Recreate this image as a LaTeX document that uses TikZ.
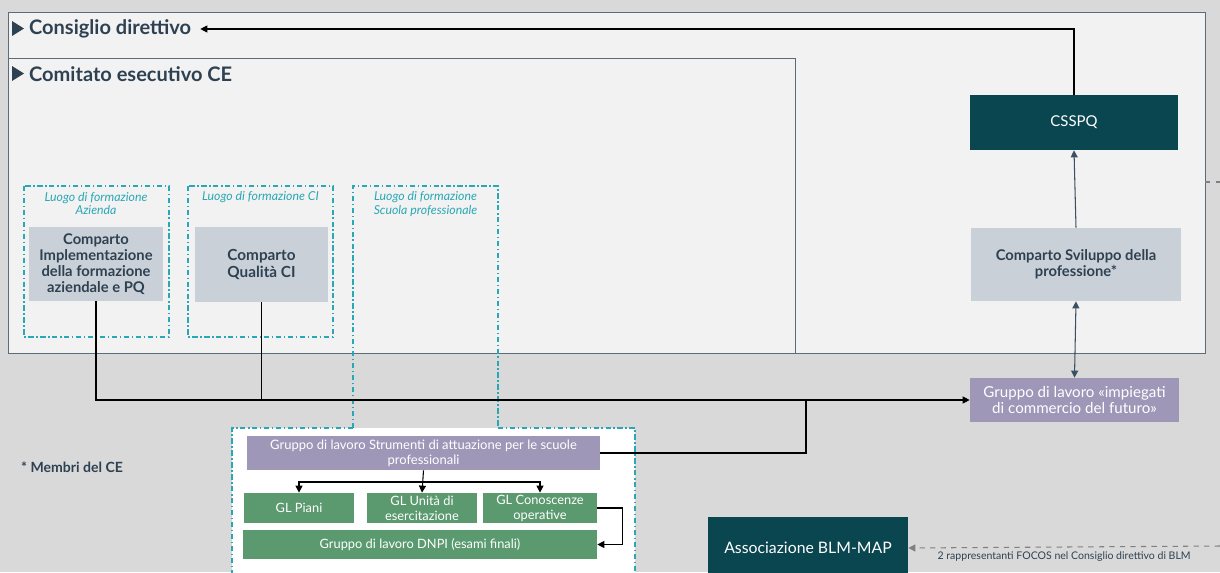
\documentclass[tikz,border=0pt]{standalone}
\usepackage{fontspec}
\setmainfont{Lato}
\usetikzlibrary{arrows.meta}
\definecolor{sfondo}{HTML}{D9D9D9}
\definecolor{pannello}{HTML}{F2F2F2}
\definecolor{cornice}{HTML}{5B6B77}
\definecolor{turchese}{HTML}{2AA7B5}
\definecolor{grigiobox}{HTML}{CAD0D7}
\definecolor{testoscuro}{HTML}{2E4152}
\definecolor{petrolio}{HTML}{0A4650}
\definecolor{lilla}{HTML}{9E97B8}
\definecolor{verde}{HTML}{5A9A6E}
\definecolor{ardesia}{HTML}{3A5163}
\begin{document}
\begin{tikzpicture}[x=0.02cm,y=-0.02cm,
    titolo/.style={anchor=west, text=testoscuro, inner sep=1pt, font=\bfseries\fontsize{11.4}{13}\selectfont},
    luogo/.style={draw=turchese, line width=0.6pt, dash pattern=on 3pt off 1.5pt on 0.8pt off 1.5pt},
    luogotesto/.style={text=turchese, align=center, font=\itshape\fontsize{7}{7.5}\selectfont},
    grigio/.style={fill=grigiobox, text=testoscuro, align=center, inner sep=1pt, font=\bfseries\fontsize{8.4}{9}\selectfont},
    scuro/.style={fill=petrolio, text=white, align=center, inner sep=1pt, font=\fontsize{8.5}{10}\selectfont},
    viola/.style={fill=lilla, text=white, align=center, inner sep=1pt, font=\fontsize{8.6}{9}\selectfont},
    gl/.style={fill=verde, text=white, align=center, inner sep=1pt, font=\fontsize{7.3}{8.5}\selectfont},
    freccia/.style={line width=0.6pt, -{Triangle[length=4pt,width=4pt]}},
    collega/.style={line width=0.6pt}]
  \clip (0,0) rectangle (1220,572);
  \fill[sfondo] (0,0) rectangle (1220,572);
  \draw[cornice, fill=pannello, line width=0.5pt] (8,12) rectangle (1205,353);
  \draw[cornice, line width=0.5pt] (8,58) -- (795,58) -- (795,353);
  \fill[testoscuro] (12,21) -- (24,28.5) -- (12,36) -- cycle;
  \fill[testoscuro] (12,66) -- (24,73.5) -- (12,81) -- cycle;
  \node[titolo] (cd) at (27,29) {Consiglio direttivo};
  \node[titolo] (ce) at (27,74) {Comitato esecutivo CE};
  \draw[luogo] (24,186) rectangle (169,337);
  \draw[luogo] (188,186) rectangle (333,337);
  \fill[white] (232,428) rectangle (635,580);
  \draw[luogo] (353,428) -- (353,186) -- (498,186) -- (498,428);
  \draw[luogo] (353,428) -- (232,428) -- (232,580);
  \draw[luogo] (498,428) -- (635,428) -- (635,580);
  \node[luogotesto] (la) at (96,203.5) {Luogo di formazione\\Azienda};
  \node[luogotesto] (lc) at (260.5,197) {Luogo di formazione CI};
  \node[luogotesto] (ls) at (425.5,204) {Luogo di formazione\\Scuola professionale};
  \node[grigio, minimum width=2.68cm, minimum height=1.48cm] (impl) at (96,264) {Comparto\\Implementazione\\della formazione\\aziendale e PQ};
  \node[grigio, font=\bfseries\fontsize{8.7}{9.5}\selectfont, minimum width=2.66cm, minimum height=1.5cm] (qual) at (261.5,264.5) {Comparto\\Qualità CI};
  \node[scuro, minimum width=4.16cm, minimum height=1.1cm] (csspq) at (1074,122.5) {CSSPQ};
  \node[grigio, minimum width=4.2cm, minimum height=1.46cm] (svil) at (1076,264.5) {Comparto Sviluppo della\\professione*};
  \node[viola, minimum width=4.18cm, minimum height=0.88cm] (futuro) at (1074.5,400) {Gruppo di lavoro «impiegati\\di commercio del futuro»};
  \node[viola, font=\fontsize{7.4}{8.5}\selectfont, minimum width=7.06cm, minimum height=0.68cm] (strum) at (423.5,453) {Gruppo di lavoro Strumenti di attuazione per le scuole\\professionali};
  \node[gl, minimum width=2.2cm, minimum height=0.6cm] (piani) at (299,508) {GL Piani};
  \node[gl, minimum width=2.2cm, minimum height=0.6cm] (unita) at (422,508) {GL Unità di\\esercitazione};
  \node[gl, minimum width=2.28cm, minimum height=0.6cm] (conosc) at (540,508) {GL Conoscenze\\operative};
  \node[gl, minimum width=7.08cm, minimum height=0.58cm] (dnpi) at (420,544.5) {Gruppo di lavoro DNPI (esami finali)};
  \node[scuro, font=\fontsize{9}{10}\selectfont, minimum width=4cm, minimum height=1.24cm] (blm) at (808,548) {Associazione BLM-MAP};
  \node[anchor=west, text=testoscuro, font=\bfseries\fontsize{8}{9}\selectfont] (membri) at (15,467) {* Membri del CE};
  \coordinate (nodo) at (806,400);
  \coordinate (split) at (423,482);
  \coordinate (rep) at (1220,546);
  \coordinate (bordo) at (1205,182);
  \coordinate (fuori) at (1220,182);
  \draw[freccia] (csspq.north) |- ([xshift=4pt]cd.east);
  \draw[freccia, ardesia] (svil.north) -- (csspq.south);
  \draw[freccia, ardesia, {Triangle[length=4pt,width=4pt]}-{Triangle[length=4pt,width=4pt]}] (svil.south) -- (futuro.north);
  \draw[freccia] (impl.south) |- (futuro.west);
  \draw[collega] (qual.south) -- (qual.south |- futuro.west);
  \draw[collega] (strum.east) -| (nodo);
  \draw[freccia] (strum.south) -- (unita.north);
  \draw[freccia] (split) -| (piani.north);
  \draw[freccia] (split) -| (conosc.north);
  \draw[freccia] (conosc.east) -- ++(25,0) |- (dnpi.east);
  \draw[gray, line width=0.6pt, dashed, -{Triangle[length=4pt,width=4pt]}] (rep) -- (blm.east)
    node[midway, below, yshift=1pt, text=testoscuro, font=\fontsize{6}{7}\selectfont] {2 rappresentanti FOCOS nel Consiglio direttivo di BLM};
  \draw[gray, line width=0.6pt, dashed] (bordo) -- (fuori);
\end{tikzpicture}
\end{document}
